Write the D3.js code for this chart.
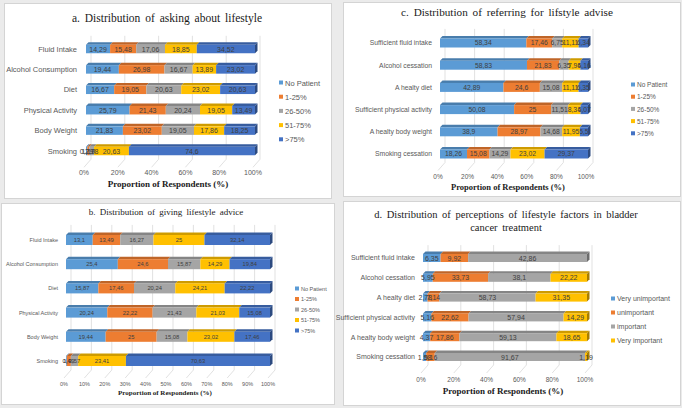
<!DOCTYPE html>
<html>
<head>
<meta charset="utf-8">
<script src="https://cdn.jsdelivr.net/npm/d3@7"></script>
<style>
body { margin: 0; background: #ebebeb; }
svg { display: block; }
.panel { fill: #ffffff; stroke: #d4d4d4; stroke-width: 1; }
.title, .axis-title { font-family: "Liberation Serif", "Times New Roman", serif; fill: #1a1a1a; text-anchor: middle; }
.axis-title { font-weight: bold; }
.cat, .tick, .legend text { font-family: "Liberation Sans", Arial, sans-serif; fill: #595959; }
.value { font-family: "Liberation Sans", Arial, sans-serif; fill: #404040; text-anchor: middle; }
.grid { stroke: #d9d9d9; stroke-width: 0.8; fill: none; }
</style>
</head>
<body>
<svg width="682" height="408"></svg>
<script>
// Series names and colours
var freqKeys = ['No Patient', '1-25%', '26-50%', '51-75%', '>75%'];
var freqColors = ['#5B9BD5', '#ED7D31', '#A5A5A5', '#FFC000', '#4472C4'];
var importKeys = ['Very unimportant', 'unimportant', 'important', 'Very important'];
var importColors = ['#5B9BD5', '#ED7D31', '#A5A5A5', '#FFC000'];

// a. asking about lifestyle
var askCats = ['Fluid Intake', 'Alcohol Consumption', 'Diet', 'Physical Activity', 'Body Weight', 'Smoking'];
var askValues = [
    [14.29, 15.48, 17.06, 18.85, 34.52],
    [19.44, 26.98, 16.67, 13.89, 23.02],
    [16.67, 19.05, 20.63, 23.02, 20.63],
    [25.79, 21.43, 20.24, 19.05, 13.49],
    [21.83, 23.02, 19.05, 17.86, 18.25],
    [0.79, 1.19, 2.78, 20.63, 74.6]
];

// b. giving lifestyle advice
var adviceCats = ['Fluid Intake', 'Alcohol Consumption', 'Diet', 'Physical Activity', 'Body Weight', 'Smoking'];
var adviceValues = [
    [13.1, 13.49, 16.27, 25, 32.14],
    [25.4, 24.6, 15.87, 14.29, 19.84],
    [15.87, 17.46, 20.24, 24.21, 22.22],
    [20.24, 22.22, 21.43, 21.03, 15.08],
    [19.44, 25, 15.08, 23.02, 17.46],
    [0.4, 1.99, 3.57, 23.41, 70.63]
];

// c. referring for lifestyle advise
var referCats = ['Sufficient fluid intake', 'Alcohol cessation', 'A healty diet', 'Sufficient physical activity', 'A healty body weight', 'Smoking cessation'];
var referValues = [
    [58.34, 17.46, 6.75, 11.11, 6.34],
    [58.83, 21.83, 6.35, 7.94, 5.16],
    [42.89, 24.6, 15.08, 11.11, 6.35],
    [50.08, 25, 11.51, 8.34, 5.07],
    [38.9, 28.97, 14.68, 11.95, 5.5],
    [18.26, 15.08, 14.29, 23.02, 29.37]
];

// d. perceptions of lifestyle factors
var perceiveCats = ['Sufficient fluid intake', 'Alcohol cessation', 'A healty diet', 'Sufficient physical activity', 'A healty body weight', 'Smoking cessation'];
var perceiveValues = [
    [6.35, 9.92, 42.86, 0],
    [5.95, 33.73, 38.1, 22.22],
    [2.78, 7.14, 58.73, 31.35],
    [5.16, 22.62, 57.94, 14.29],
    [4.37, 17.86, 59.13, 18.65],
    [1.98, 5.16, 91.67, 1.19]
];

var ticksFifth = [0, 0.2, 0.4, 0.6, 0.8, 1];
var ticksTenth = [0, 0.1, 0.2, 0.3, 0.4, 0.5, 0.6, 0.7, 0.8, 0.9, 1];

var svg = d3.select('svg');
var fmtPct = d3.format('.0%');
var fmtVal = function(v) { return String(v).replace('.', ','); };

function drawPanel(p) {
    var g = svg.append('g');

    g.append('rect').attr('class', 'panel')
        .attr('x', p.box[0] + 0.5).attr('y', p.box[1] + 0.5)
        .attr('width', p.box[2]).attr('height', p.box[3]);

    p.title.forEach(function(line, i) {
        g.append('text').attr('class', 'title')
            .attr('x', p.titleX).attr('y', p.titleY + i * p.titleSize * 1.2)
            .style('font-size', p.titleSize + 'px')
            .style('word-spacing', '2px')
            .text(line);
    });

    // build rows and stack them as 100% bars
    var rows = p.cats.map(function(c, i) {
        var o = {cat: c};
        p.keys.forEach(function(k, j) { o[k] = p.values[i][j]; });
        return o;
    });
    var series = d3.stack().keys(p.keys).offset(d3.stackOffsetExpand)(rows);

    var xScale = d3.scaleLinear().domain([0, 1]).range([p.x0, p.x1]);
    var n = p.cats.length;
    var step = (p.yc1 - p.yc0) / (n - 1);
    var pad = 1 - p.barH / step;
    var yScale = d3.scaleBand().domain(p.cats)
        .range([p.yc0 - step / 2, p.yc1 + step / 2])
        .paddingInner(pad).paddingOuter(pad / 2);
    var bw = yScale.bandwidth();
    var dd = p.depth;

    // back wall grid lines and floor
    var gridTop = p.yc0 - step / 2 - 3;
    var gridBottom = p.yc1 + bw / 2 + 4;
    p.ticks.forEach(function(t) {
        var x = xScale(t);
        g.append('path').attr('class', 'grid')
            .attr('d', 'M' + (x + 5) + ',' + gridTop + 'V' + gridBottom + 'L' + (x - 2) + ',' + (gridBottom + 8));
        g.append('text').attr('class', 'tick')
            .attr('x', x - 2).attr('y', p.tickY)
            .attr('text-anchor', 'middle')
            .style('font-size', p.tickSize + 'px')
            .text(fmtPct(t));
    });

    g.append('text').attr('class', 'axis-title')
        .attr('x', p.axisX).attr('y', p.axisY)
        .style('font-size', p.axisSize + 'px')
        .text('Proportion of Respondents (%)');

    // category labels
    g.selectAll('.cat').data(p.cats).enter().append('text')
        .attr('class', 'cat')
        .attr('x', p.catX)
        .attr('y', function(d) { return yScale(d) + bw / 2; })
        .attr('dy', '0.35em')
        .attr('text-anchor', 'end')
        .style('font-size', p.catSize + 'px')
        .text(function(d) { return d; });

    // bars
    series.forEach(function(s, si) {
        var color = p.colors[si];
        s.forEach(function(d, ci) {
            var x = xScale(d[0]);
            var w = xScale(d[1]) - x;
            var y = yScale(p.cats[ci]);
            if (w <= 0) return;
            g.append('path')
                .attr('d', 'M' + x + ',' + y + 'L' + (x + dd) + ',' + (y - dd) + 'H' + (x + w + dd) + 'L' + (x + w) + ',' + y + 'Z')
                .attr('fill', d3.color(color).darker(0.6));
            g.append('rect')
                .attr('x', x).attr('y', y)
                .attr('width', w).attr('height', bw)
                .attr('fill', color);
            // right end face of the bar
            var isLast = true;
            for (var k = si + 1; k < series.length; k++) {
                if (series[k][ci][1] - series[k][ci][0] > 0) isLast = false;
            }
            if (isLast) {
                g.append('path')
                    .attr('d', 'M' + (x + w) + ',' + y + 'L' + (x + w + dd) + ',' + (y - dd) + 'V' + (y + bw - dd) + 'L' + (x + w) + ',' + (y + bw) + 'Z')
                    .attr('fill', d3.color(color).darker(1.2));
            }
        });
    });

    // value labels
    series.forEach(function(s, si) {
        s.forEach(function(d, ci) {
            var v = p.values[ci][si];
            if (!v) return;
            g.append('text').attr('class', 'value')
                .attr('x', (xScale(d[0]) + xScale(d[1])) / 2)
                .attr('y', yScale(p.cats[ci]) + bw / 2)
                .attr('dy', '0.36em')
                .style('font-size', p.valueSize + 'px')
                .text(fmtVal(v));
        });
    });

    // legend
    var legend = g.selectAll('.legend').data(p.keys).enter().append('g')
        .attr('class', 'legend')
        .attr('transform', function(d, i) { return 'translate(' + [p.legendX, p.legendY + i * p.legendStep] + ')'; });
    legend.append('rect')
        .attr('x', 0).attr('y', -2.5)
        .attr('width', 4).attr('height', 4)
        .attr('fill', function(d, i) { return p.colors[i]; });
    legend.append('text')
        .attr('x', 6).attr('dy', '0.35em')
        .style('font-size', p.legendSize + 'px')
        .text(function(d) { return d; });
}

drawPanel({
    box: [4, 3, 327, 195],
    title: ['a. Distribution of asking about lifestyle'], titleX: 167, titleY: 22, titleSize: 11.5,
    cats: askCats, values: askValues, keys: freqKeys, colors: freqColors,
    x0: 86, x1: 255, yc0: 49, yc1: 151, barH: 8.5, depth: 2.5,
    ticks: ticksFifth, tickY: 175, tickSize: 7, axisX: 168, axisY: 187, axisSize: 9,
    catX: 77, catSize: 7.5, valueSize: 7,
    legendX: 279, legendY: 83, legendStep: 14.2, legendSize: 7.5
});

drawPanel({
    box: [343, 2, 337, 194],
    title: ['c. Distribution of referring  for lifstyle advise'], titleX: 507, titleY: 16, titleSize: 11.2,
    cats: referCats, values: referValues, keys: freqKeys, colors: freqColors,
    x0: 440, x1: 588, yc0: 43, yc1: 154, barH: 9, depth: 2.5,
    ticks: ticksFifth, tickY: 179, tickSize: 6.5, axisX: 508, axisY: 190, axisSize: 8.5,
    catX: 432, catSize: 6.8, valueSize: 6.8,
    legendX: 631, legendY: 85, legendStep: 12.2, legendSize: 6.5
});

drawPanel({
    box: [1, 203, 333, 201],
    title: ['b. Distribution of giving lifestyle advice'], titleX: 166, titleY: 215, titleSize: 9,
    cats: adviceCats, values: adviceValues, keys: freqKeys, colors: freqColors,
    x0: 66, x1: 270, yc0: 240, yc1: 361, barH: 10, depth: 2.5,
    ticks: ticksTenth, tickY: 385.5, tickSize: 5.5, axisX: 165, axisY: 394.5, axisSize: 7,
    catX: 58, catSize: 5.5, valueSize: 5.8,
    legendX: 295, legendY: 289, legendStep: 10.5, legendSize: 5.5
});

drawPanel({
    box: [343, 201, 337, 204],
    title: ['d. Distribution of perceptions of lifestyle factors in bladder', 'cancer treatment'], titleX: 506, titleY: 218, titleSize: 10.5,
    cats: perceiveCats, values: perceiveValues, keys: importKeys, colors: importColors,
    x0: 423, x1: 587, yc0: 258, yc1: 357, barH: 8, depth: 2.5,
    ticks: ticksFifth, tickY: 381.5, tickSize: 6.5, axisX: 503, axisY: 394, axisSize: 9,
    catX: 415, catSize: 7, valueSize: 7,
    legendX: 611, legendY: 299, legendStep: 14, legendSize: 7
});
</script>
</body>
</html>
